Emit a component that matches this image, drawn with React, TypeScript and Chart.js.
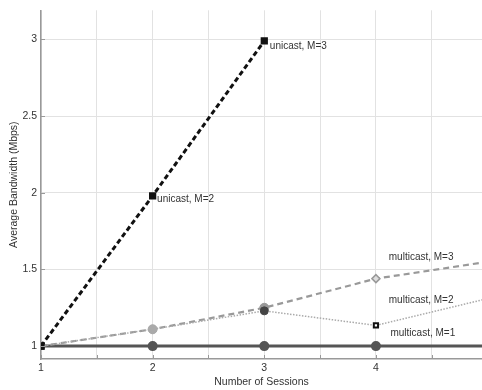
import React, { useEffect, useRef } from "react";
import { Chart, registerables } from "chart.js";

Chart.register(...registerables);

const sessions = [1, 2, 3, 4, 5];
const unicastSessions = [1, 2, 3];
const unicastM = [1, 1.98, 2.99];
const multicastM1 = [1, 1, 1, 1, 1];
const multicastM2 = [1, 1.11, 1.23, 1.135, 1.31];
const multicastM3 = [1, 1.11, 1.25, 1.44, 1.55];
const xTicks = [1, 1.5, 2, 2.5, 3, 3.5, 4, 4.5];
const yTicks = [1, 1.5, 2, 2.5, 3];
const labelTexts = ["unicast, M=2", "unicast, M=3", "multicast, M=3", "multicast, M=2", "multicast, M=1"];
const labelX = [2.04, 3.05, 4.115, 4.115, 4.13];
const labelY = [1.958, 2.955, 1.58, 1.30, 1.085];

const FONT = "'Liberation Sans', Arial, sans-serif";

const pts = (xs: number[], ys: number[]) => xs.map((x, i) => ({ x, y: ys[i] }));

const stretchRight = {
  id: "stretchRight",
  afterLayout(chart: any) {
    const W = chart.width;
    const area = chart.chartArea;
    area.right = W;
    area.width = W - area.left;
    const x = chart.scales.x;
    x.right = W;
    x.width = W - x.left;
    x.configure();
  },
};

const labelPlugin = {
  id: "curveLabels",
  afterDatasetsDraw(chart: any) {
    const { ctx, scales } = chart;
    ctx.save();
    ctx.font = `10px ${FONT}`;
    ctx.fillStyle = "#333";
    ctx.textAlign = "left";
    ctx.textBaseline = "middle";
    labelTexts.forEach((t, i) => {
      ctx.fillText(t, scales.x.getPixelForValue(labelX[i]), scales.y.getPixelForValue(labelY[i]));
    });
    ctx.restore();
  },
};

const innerTicks = {
  id: "innerTicks",
  afterDraw(chart: any) {
    const { ctx, scales, chartArea } = chart;
    ctx.save();
    ctx.strokeStyle = "#999";
    ctx.lineWidth = 1;
    ctx.beginPath();
    xTicks.forEach((v) => {
      const px = Math.round(scales.x.getPixelForValue(v)) + 0.5;
      ctx.moveTo(px, chartArea.bottom);
      ctx.lineTo(px, chartArea.bottom - 4);
    });
    yTicks.forEach((v) => {
      const py = Math.round(scales.y.getPixelForValue(v)) + 0.5;
      ctx.moveTo(chartArea.left, py);
      ctx.lineTo(chartArea.left + 4, py);
    });
    ctx.stroke();
    ctx.restore();
  },
};

export default function App() {
  const ref = useRef<HTMLCanvasElement>(null);
  useEffect(() => {
    if (!ref.current) return;
    const chart = new Chart(ref.current, {
      type: "line",
      data: {
        datasets: [
          {
            label: "unicast",
            data: pts(unicastSessions, unicastM),
            borderColor: "#111",
            borderWidth: 3,
            borderDash: [5, 3],
            pointStyle: "rect",
            pointRadius: 3,
            pointBackgroundColor: "#111",
            pointBorderColor: "#111",
          },
          {
            label: "multicast, M=2",
            data: pts(sessions, multicastM2),
            borderColor: "#aaa",
            borderWidth: 1.5,
            borderDash: [1.5, 1.5],
            pointStyle: ["rect", "circle", "circle", "rect", "circle"],
            pointRadius: [3, 4, 4, 3, 0],
            pointBackgroundColor: ["#111", "#aaa", "#444", "#fff", "#aaa"],
            pointBorderColor: ["#111", "#aaa", "#444", "#111", "#aaa"],
            pointBorderWidth: [1, 1, 1, 2, 1],
          },
          {
            label: "multicast, M=3",
            data: pts(sessions, multicastM3),
            borderColor: "#999",
            borderWidth: 2.2,
            borderDash: [6, 4],
            pointStyle: ["rect", "circle", "circle", "rectRot", "circle"],
            pointRadius: [3, 4.5, 4.5, 4, 0],
            pointBackgroundColor: ["#111", "#aaa", "#999", "#ddd", "#999"],
            pointBorderColor: ["#111", "#aaa", "#999", "#999", "#999"],
            pointBorderWidth: [1, 1, 1, 1.5, 1],
          },
          {
            label: "multicast, M=1",
            data: pts(sessions, multicastM1),
            borderColor: "#555",
            borderWidth: 3,
            pointStyle: ["rect", "circle", "circle", "circle", "circle"],
            pointRadius: [3, 3.5, 3.5, 3.5, 0],
            pointBackgroundColor: ["#111", "#555", "#555", "#555", "#555"],
            pointBorderColor: ["#111", "#555", "#555", "#555", "#555"],
          },
        ],
      },
      options: {
        responsive: false,
        animation: false,
        devicePixelRatio: 1,
        layout: { padding: { top: 7, right: 0, left: 0, bottom: 0 } },
        plugins: { legend: { display: false }, tooltip: { enabled: false } },
        scales: {
          x: {
            type: "linear",
            min: 1,
            max: 4.95,
            afterBuildTicks: (s: any) => {
              s.ticks = xTicks.map((v) => ({ value: v }));
            },
            afterFit: (s: any) => {
              s.height = 31;
            },
            ticks: {
              padding: 3,
              autoSkip: false,
              maxRotation: 0,
              color: "#333",
              font: { family: FONT, size: 10.5 },
              callback: (v: any) => (Number.isInteger(v) ? String(v) : ""),
            },
            grid: { color: "#e2e2e2", lineWidth: 1, drawTicks: false },
            border: { color: "#999", width: 1.5 },
            title: {
              display: true,
              text: "Number of Sessions",
              color: "#333",
              font: { family: FONT, size: 10.5 },
              padding: { top: 0, bottom: 2 },
            },
          },
          y: {
            type: "linear",
            min: 0.916,
            max: 3.19,
            afterBuildTicks: (s: any) => {
              s.ticks = yTicks.map((v) => ({ value: v }));
            },
            afterFit: (s: any) => {
              s.width = 41;
            },
            ticks: {
              padding: 4,
              autoSkip: false,
              color: "#333",
              font: { family: FONT, size: 10.5 },
              callback: (v: any) => String(v),
            },
            grid: { color: "#e2e2e2", lineWidth: 1, drawTicks: false },
            border: { color: "#999", width: 1.5 },
            title: {
              display: true,
              text: "Average Bandwidth (Mbps)",
              color: "#333",
              font: { family: FONT, size: 10.5 },
              padding: { top: 8, bottom: 0 },
            },
          },
        },
      },
      plugins: [stretchRight, labelPlugin, innerTicks],
    } as any);
    return () => chart.destroy();
  }, []);
  return (
    <div style={{ position: "fixed", left: 0, top: 0, width: 482, height: 390, background: "#fff" }}>
      <canvas ref={ref} width={482} height={390} style={{ width: 482, height: 390, display: "block" }} />
    </div>
  );
}
